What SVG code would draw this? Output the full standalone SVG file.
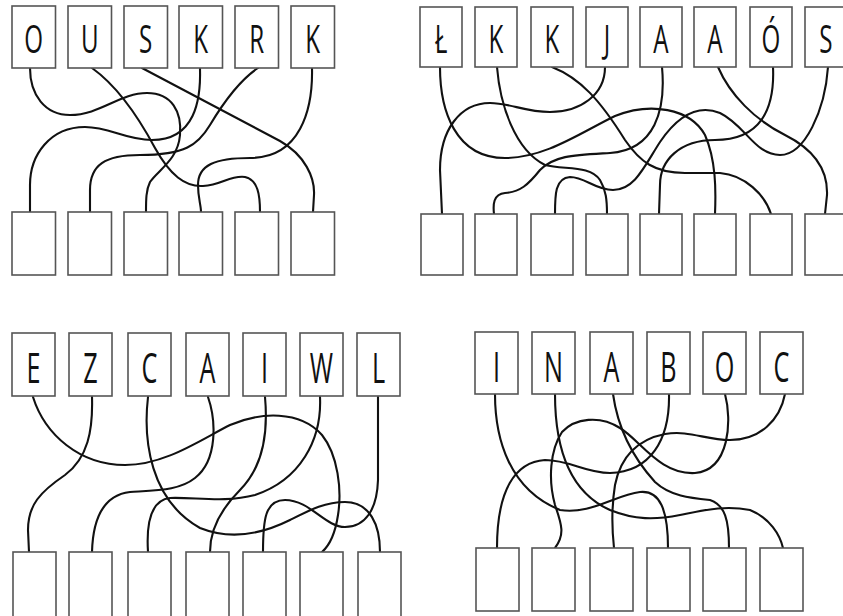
<svg xmlns="http://www.w3.org/2000/svg" width="843" height="616" viewBox="0 0 843 616">
<style>
.box{fill:#fff;stroke:#555;stroke-width:1.6}
.w{fill:none;stroke:#111;stroke-width:2.1;stroke-linecap:round}
.t{font-family:"Open Sans","Liberation Sans",sans-serif;font-size:39px;fill:#111;text-anchor:middle}
.t2{font-family:"Open Sans","Liberation Sans",sans-serif;font-size:42px;fill:#111;text-anchor:middle}
</style>
<rect width="843" height="616" fill="#fff"/>
<g id="connectors">
<path class="w" d="M30,68 C30,95 45,115 70,115 C100,115 120,93 147,93 C172,93 182,112 180,135 C178,160 158,170 150,182 C146,190 146,200 146,212"/>
<path class="w" d="M92,68 C120,88 140,120 155,148 C170,175 185,187 203,186 C222,185 230,175 245,177 C258,180 260,195 260,212"/>
<path class="w" d="M142,68 L280,141 C305,155 315,178 314,195 L313,212"/>
<path class="w" d="M200,68 C201,100 195,140 152,140 C125,140 110,127 85,127 C50,127 30,155 30,185 L30,212"/>
<path class="w" d="M258,68 C240,80 225,100 210,125 C198,145 185,155 140,155 C105,155 90,165 90,190 L90,212"/>
<path class="w" d="M312,68 C313,110 300,158 250,158 C215,158 198,165 198,185 C198,198 201,205 201,212"/>
<path class="w" d="M440,67 C440,110 455,158 505,158 C545,158 580,133 615,116 C650,102 690,108 705,135 C716,160 716,190 715,214"/>
<path class="w" d="M497,67 C500,105 515,150 545,165 C565,170 590,165 600,180 C606,190 607,200 607,214"/>
<path class="w" d="M552,67 C580,78 600,100 625,140 C640,162 655,173 685,173 L720,173 C745,175 765,195 771,214"/>
<path class="w" d="M605,67 C605,95 580,112 550,112 C525,112 510,103 490,103 C460,103 440,130 440,170 L442,214"/>
<path class="w" d="M662,67 C666,110 655,150 610,153 C575,155 555,155 540,170 C528,185 520,192 505,193 C493,194 493,205 494,214"/>
<path class="w" d="M718,67 C730,95 755,120 785,135 C815,150 828,170 827,195 L825,214"/>
<path class="w" d="M773,67 C775,110 760,140 715,140 C680,140 660,160 660,185 L659,214"/>
<path class="w" d="M828,67 C825,110 805,155 780,155 C755,155 745,125 720,113 C695,103 675,120 660,142 C645,165 635,190 613,190 C595,190 585,177 570,177 C555,178 555,195 555,214"/>
<path class="w" d="M33,397 C45,435 80,465 125,465 C165,465 200,440 230,425 C260,412 300,410 322,435 C338,455 342,490 338,515 C335,535 330,545 322,552"/>
<path class="w" d="M92,397 C93,430 88,458 65,475 C40,492 28,505 28,530 L29,552"/>
<path class="w" d="M148,397 C143,440 150,500 200,528 C230,540 260,535 290,520 C310,510 325,502 345,502 C370,502 380,525 380,552"/>
<path class="w" d="M208,397 C216,420 218,460 195,478 C180,490 160,490 130,492 C105,495 93,515 92,552"/>
<path class="w" d="M265,397 C268,430 265,465 240,490 C220,510 210,530 210,552"/>
<path class="w" d="M320,397 C322,440 300,480 255,495 C225,503 195,497 170,498 C152,500 146,520 148,552"/>
<path class="w" d="M378,397 L378,480 C377,510 365,527 345,527 C325,527 310,500 285,500 C265,500 263,520 263,552"/>
<path class="w" d="M495,394 C495,440 510,490 560,510 C590,515 615,495 640,492 C660,490 668,510 668,548"/>
<path class="w" d="M555,394 C555,440 565,490 610,510 C635,520 655,520 680,515 C705,510 725,505 750,510 C770,518 780,535 783,548"/>
<path class="w" d="M613,394 C618,430 635,460 655,482 C670,496 690,498 710,500 C725,505 729,520 729,548"/>
<path class="w" d="M669,394 C670,440 650,472 610,473 C585,473 570,460 545,460 C515,462 497,490 497,548"/>
<path class="w" d="M725,394 C732,420 730,470 695,473 C660,475 640,440 620,428 C600,415 575,418 562,432 C550,450 548,480 555,505 C562,525 565,535 555,548"/>
<path class="w" d="M785,394 C780,420 760,440 730,440 C705,440 690,430 665,434 C635,440 620,460 615,485 C611,510 612,530 614,548"/>
</g>
<g id="q1t1"><rect class="box" x="12" y="6" width="43.5" height="62"/><text class="t" transform="translate(33.7,53) scale(0.62,1)">O</text></g>
<g id="q1t2"><rect class="box" x="68" y="6" width="43.5" height="62"/><text class="t" transform="translate(89.7,53) scale(0.62,1)">U</text></g>
<g id="q1t3"><rect class="box" x="124" y="6" width="43.5" height="62"/><text class="t" transform="translate(145.7,53) scale(0.62,1)">S</text></g>
<g id="q1t4"><rect class="box" x="179" y="6" width="43.5" height="62"/><text class="t" transform="translate(200.7,53) scale(0.62,1)">K</text></g>
<g id="q1t5"><rect class="box" x="235" y="6" width="43.5" height="62"/><text class="t" transform="translate(256.7,53) scale(0.62,1)">R</text></g>
<g id="q1t6"><rect class="box" x="291" y="6" width="43.5" height="62"/><text class="t" transform="translate(312.7,53) scale(0.62,1)">K</text></g>
<g id="q1b1"><rect class="box" x="12" y="212" width="43.5" height="63"/></g>
<g id="q1b2"><rect class="box" x="68" y="212" width="43.5" height="63"/></g>
<g id="q1b3"><rect class="box" x="124" y="212" width="43.5" height="63"/></g>
<g id="q1b4"><rect class="box" x="179" y="212" width="43.5" height="63"/></g>
<g id="q1b5"><rect class="box" x="235" y="212" width="43.5" height="63"/></g>
<g id="q1b6"><rect class="box" x="291" y="212" width="43.5" height="63"/></g>
<g id="q2t1"><rect class="box" x="420" y="7" width="42" height="60"/><text class="t" transform="translate(441,53) scale(0.62,1)">Ł</text></g>
<g id="q2t2"><rect class="box" x="475" y="7" width="42" height="60"/><text class="t" transform="translate(496,53) scale(0.62,1)">K</text></g>
<g id="q2t3"><rect class="box" x="531" y="7" width="42" height="60"/><text class="t" transform="translate(552,53) scale(0.62,1)">K</text></g>
<g id="q2t4"><rect class="box" x="586" y="7" width="42" height="60"/><text class="t" transform="translate(607,53) scale(0.62,1)">J</text></g>
<g id="q2t5"><rect class="box" x="640" y="7" width="42" height="60"/><text class="t" transform="translate(661,53) scale(0.62,1)">A</text></g>
<g id="q2t6"><rect class="box" x="694" y="7" width="42" height="60"/><text class="t" transform="translate(715,53) scale(0.62,1)">A</text></g>
<g id="q2t7"><rect class="box" x="750" y="7" width="42" height="60"/><text class="t" transform="translate(771,53) scale(0.62,1)">Ó</text></g>
<g id="q2t8"><rect class="box" x="805" y="7" width="42" height="60"/><text class="t" transform="translate(826,53) scale(0.62,1)">S</text></g>
<g id="q2b1"><rect class="box" x="421" y="214" width="42" height="61"/></g>
<g id="q2b2"><rect class="box" x="475" y="214" width="42" height="61"/></g>
<g id="q2b3"><rect class="box" x="531" y="214" width="42" height="61"/></g>
<g id="q2b4"><rect class="box" x="586" y="214" width="42" height="61"/></g>
<g id="q2b5"><rect class="box" x="640" y="214" width="42" height="61"/></g>
<g id="q2b6"><rect class="box" x="694" y="214" width="42" height="61"/></g>
<g id="q2b7"><rect class="box" x="750" y="214" width="42" height="61"/></g>
<g id="q2b8"><rect class="box" x="805" y="214" width="42" height="61"/></g>
<g id="q3t1"><rect class="box" x="12" y="333" width="43" height="63"/><text class="t2" transform="translate(33.5,383) scale(0.6,1)">E</text></g>
<g id="q3t2"><rect class="box" x="69" y="333" width="43" height="63"/><text class="t2" transform="translate(90.5,383) scale(0.6,1)">Z</text></g>
<g id="q3t3"><rect class="box" x="128" y="333" width="43" height="63"/><text class="t2" transform="translate(149.5,383) scale(0.6,1)">C</text></g>
<g id="q3t4"><rect class="box" x="186" y="333" width="43" height="63"/><text class="t2" transform="translate(207.5,383) scale(0.6,1)">A</text></g>
<g id="q3t5"><rect class="box" x="243" y="333" width="43" height="63"/><text class="t2" transform="translate(264.5,383) scale(0.6,1)">I</text></g>
<g id="q3t6"><rect class="box" x="300" y="333" width="43" height="63"/><text class="t2" transform="translate(321.5,383) scale(0.6,1)">W</text></g>
<g id="q3t7"><rect class="box" x="357" y="333" width="43" height="63"/><text class="t2" transform="translate(378.5,383) scale(0.6,1)">L</text></g>
<g id="q3b1"><rect class="box" x="13" y="552" width="43" height="70"/></g>
<g id="q3b2"><rect class="box" x="69" y="552" width="43" height="70"/></g>
<g id="q3b3"><rect class="box" x="128" y="552" width="43" height="70"/></g>
<g id="q3b4"><rect class="box" x="186" y="552" width="43" height="70"/></g>
<g id="q3b5"><rect class="box" x="243" y="552" width="43" height="70"/></g>
<g id="q3b6"><rect class="box" x="300" y="552" width="43" height="70"/></g>
<g id="q3b7"><rect class="box" x="358" y="552" width="43" height="70"/></g>
<g id="q4t1"><rect class="box" x="475" y="332" width="43" height="62"/><text class="t2" transform="translate(496.5,382) scale(0.6,1)">I</text></g>
<g id="q4t2"><rect class="box" x="532" y="332" width="43" height="62"/><text class="t2" transform="translate(553.5,382) scale(0.6,1)">N</text></g>
<g id="q4t3"><rect class="box" x="590" y="332" width="43" height="62"/><text class="t2" transform="translate(611.5,382) scale(0.6,1)">A</text></g>
<g id="q4t4"><rect class="box" x="647" y="332" width="43" height="62"/><text class="t2" transform="translate(668.5,382) scale(0.6,1)">B</text></g>
<g id="q4t5"><rect class="box" x="703" y="332" width="43" height="62"/><text class="t2" transform="translate(724.5,382) scale(0.6,1)">O</text></g>
<g id="q4t6"><rect class="box" x="760" y="332" width="43" height="62"/><text class="t2" transform="translate(781.5,382) scale(0.6,1)">C</text></g>
<g id="q4b1"><rect class="box" x="476" y="548" width="43" height="63"/></g>
<g id="q4b2"><rect class="box" x="532" y="548" width="43" height="63"/></g>
<g id="q4b3"><rect class="box" x="590" y="548" width="43" height="63"/></g>
<g id="q4b4"><rect class="box" x="647" y="548" width="43" height="63"/></g>
<g id="q4b5"><rect class="box" x="703" y="548" width="43" height="63"/></g>
<g id="q4b6"><rect class="box" x="760" y="548" width="43" height="63"/></g>
</svg>
